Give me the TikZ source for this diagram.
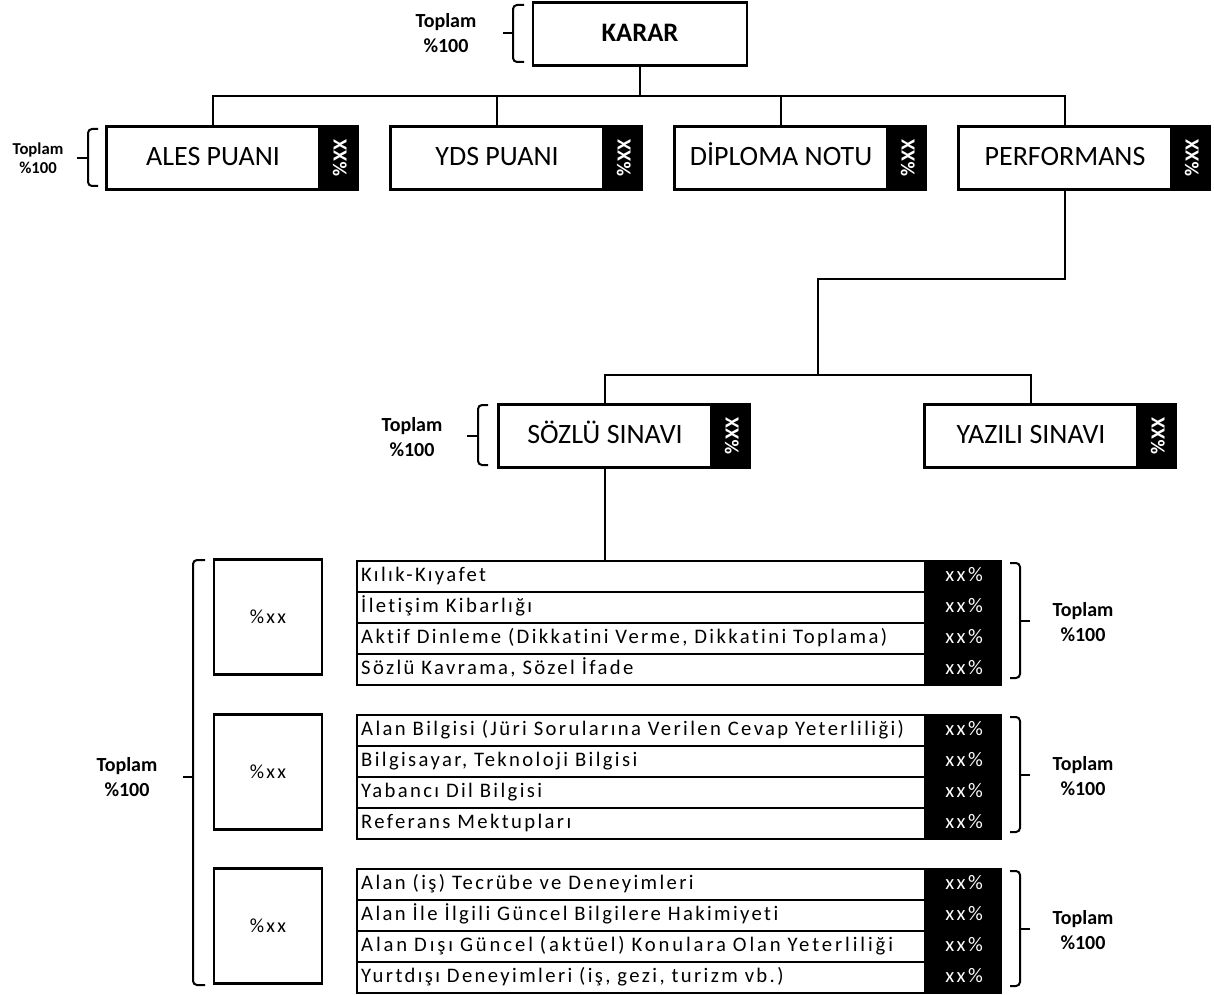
\documentclass[tikz,border=0pt]{standalone}
\usepackage{fontspec}
\setmainfont[Ligatures=NoCommon]{Carlito}
\newfontfamily\spaced[LetterSpace=11.5,Ligatures=NoCommon]{Carlito}
\newfontfamily\wider[LetterSpace=14,Ligatures=NoCommon]{Carlito}

\begin{document}
\begin{tikzpicture}[x=0.75pt,y=-0.75pt,line width=1.8pt,
  box/.style={draw,minimum width=159.75pt,minimum height=47pt,inner sep=0pt,text height=13.5pt,text depth=2pt,font=\fontsize{21}{21}\selectfont},
  tab/.style={fill=black,draw=black,anchor=west,minimum width=27pt,minimum height=47pt,inner sep=0pt,text=white,font=\bfseries\fontsize{15}{15}\selectfont},
  item/.style={draw,anchor=north west,text width=420pt,inner xsep=3pt,inner ysep=0pt,minimum height=23.25pt,text height=10.3pt,text depth=2.5pt,align=left,font=\spaced\fontsize{15.5}{15.5}\selectfont},
  pct/.style={fill=black,draw=black,anchor=north west,minimum width=54.75pt,minimum height=23.25pt,inner sep=0pt,text height=10.3pt,text depth=2.5pt,text=white,font=\spaced\fontsize{15.5}{15.5}\selectfont},
  wbox/.style={draw,minimum width=81pt,minimum height=86.25pt,inner sep=0pt,font=\spaced\fontsize{15}{15}\selectfont},
  tot/.style={align=center,font=\bfseries\fontsize{15}{18.75}\selectfont},
  brk/.style={line width=1.5pt,rounded corners=3pt}]

\useasboundingbox (0,0) rectangle (1214,995);

% top
\node[box,minimum width=160.5pt,text height=13pt,font=\bfseries\fontsize{20}{20}\selectfont] (karar) at (640,34) {KARAR};
\node[tot] (tkarar) at (446,33) {Toplam\\\%100};
\draw[brk] (524,5) -- (513,5) -- (513,62) -- (524,62);
\draw[brk] (513,33) -- (503,33);

% second level
\node[box] (ales) at (213,158) {ALES PUANI};
\node[box] (yds) at (497,158) {YDS PUANI};
\node[box] (dip) at (781,158) {DİPLOMA NOTU};
\node[box] (perf) at (1065,158) {PERFORMANS};
\node[tab] (alesp) at (ales.east) {\rotatebox{90}{\%XX}};
\node[tab] (ydsp) at (yds.east) {\rotatebox{90}{\%XX}};
\node[tab] (dipp) at (dip.east) {\rotatebox{90}{\%XX}};
\node[tab] (perfp) at (perf.east) {\rotatebox{90}{\%XX}};
\node[tot,font=\bfseries\fontsize{12.5}{14.5}\selectfont] (tales) at (38,158) {Toplam\\\%100};
\draw[brk] (98,129) -- (88,129) -- (88,186) -- (98,186);
\draw[brk] (88,158) -- (77,158);

\coordinate (k1) at (640,96);
\draw (karar.south) -- (k1);
\draw (ales.north) -- (ales.north |- k1) -- (perf.north |- k1) -- (perf.north);
\draw (yds.north) -- (yds.north |- k1);
\draw (dip.north) -- (dip.north |- k1);

% third level
\node[box] (soz) at (605,436) {SÖZLÜ SINAVI};
\node[box] (yaz) at (1031,436) {YAZILI SINAVI};
\node[tab] (sozp) at (soz.east) {\rotatebox{90}{\%XX}};
\node[tab] (yazp) at (yaz.east) {\rotatebox{90}{\%XX}};
\node[tot] (tsoz) at (412,437) {Toplam\\\%100};
\draw[brk] (488,405) -- (478,405) -- (478,465) -- (488,465);
\draw[brk] (478,436) -- (467,436);

\coordinate (p1) at (818,279);
\coordinate (p2) at (818,375);
\draw (perf.south) -- (perf.south |- p1) -- (p1) -- (p2);
\draw (soz.north) -- (soz.north |- p2) -- (yaz.north |- p2) -- (yaz.north);

% criteria, group 1
\node[item] (r11) at (356,560) {Kılık-Kıyafet};
\node[item] (r12) at (356,591) {İletişim Kibarlığı};
\node[item] (r13) at (356,622) {Aktif Dinleme (Dikkatini Verme, Dikkatini Toplama)};
\node[item] (r14) at (356,653) {Sözlü Kavrama, Sözel İfade};
% criteria, group 2
\node[item] (r21) at (356,714) {Alan Bilgisi (Jüri Sorularına Verilen Cevap Yeterliliği)};
\node[item] (r22) at (356,745) {Bilgisayar, Teknoloji Bilgisi};
\node[item] (r23) at (356,776) {Yabancı Dil Bilgisi};
\node[item] (r24) at (356,807) {Referans Mektupları};
% criteria, group 3
\node[item] (r31) at (356,868) {Alan (iş) Tecrübe ve Deneyimleri};
\node[item] (r32) at (356,899) {Alan İle İlgili Güncel Bilgilere Hakimiyeti};
\node[item,font=\wider\fontsize{15.5}{15.5}\selectfont] (r33) at (356,930) {Alan Dışı Güncel (aktüel) Konulara Olan Yeterliliği};
\node[item] (r34) at (356,961) {Yurtdışı Deneyimleri (iş, gezi, turizm vb.)};

\foreach \g in {1,2,3}{
  \foreach \r in {1,2,3,4}{
    \node[pct] (p\g\r) at (r\g\r.north east) {xx\%};
  }
}

\draw (soz.south) -- (soz.south |- r11.north);

% group weights
\node[wbox] (w1) at (268,617) {\%xx};
\node[wbox] (w2) at (268,772) {\%xx};
\node[wbox] (w3) at (268,926) {\%xx};

\draw[brk] (205,560) -- (193,560) -- (193,985) -- (205,985);
\draw[brk] (193,777) -- (183,777);
\node[tot] (tall) at (127,777) {Toplam\\\%100};

% right brackets
\foreach \t/\n in {560/1,714/2,868/3}{
  \draw[brk] (1010,\t+3) -- (1020,\t+3) -- (1020,\t+118) -- (1010,\t+118);
  \draw[brk] (1020,\t+61) -- (1030,\t+61);
  \node[tot] (tg\n) at (1083,\t+62) {Toplam\\\%100};
}

\end{tikzpicture}
\end{document}
